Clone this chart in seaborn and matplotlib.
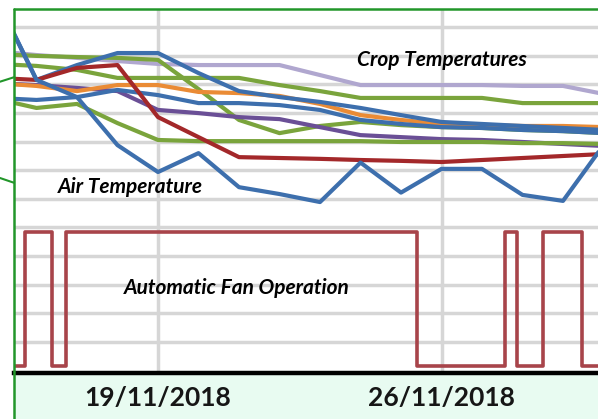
import matplotlib
matplotlib.use("Agg")
import matplotlib.pyplot as plt
from matplotlib.lines import Line2D
from matplotlib.patches import Rectangle
import seaborn as sns
import numpy as np

sns.set_theme(style="white")
plt.rcParams['font.family'] = ['Lato', 'DejaVu Sans']

# ---- data (day of November 2018, relative units) ----
days = [15, 16, 17, 18, 19, 20, 21, 22, 23, 24, 25, 26, 27, 28, 29, 30]

air_temp = [13.06, 10.16, 9.56, 7.88, 6.94, 7.60, 6.41, 6.17, 5.89, 7.27, 6.22, 7.05, 7.05, 6.14, 5.93, 7.88]
crop_blue_a = [13.06, 10.16, 10.68, 11.10, 11.10, 10.40, 9.77, 9.56, 9.39, 9.18, 8.93, 8.69, 8.62, 8.55, 8.48, 8.41]
crop_blue_b = [9.53, 9.46, 9.56, 9.81, 9.63, 9.35, 9.35, 9.28, 9.11, 8.76, 8.62, 8.51, 8.48, 8.41, 8.37, 8.30]
crop_lavender = [11.17, 11.03, 10.93, 10.82, 10.72, 10.68, 10.68, 10.68, 10.33, 9.98, 9.98, 9.98, 9.98, 9.95, 9.95, 9.67]
crop_green_a = [11.07, 11.00, 10.96, 10.93, 10.86, 9.84, 8.76, 8.30, 8.55, 8.69, 8.58, 8.51, 8.48, 8.41, 8.37, 8.30]
crop_green_b = [10.72, 10.65, 10.51, 10.23, 10.23, 10.23, 10.23, 9.98, 9.77, 9.53, 9.53, 9.53, 9.53, 9.35, 9.35, 9.35]
crop_green_c = [9.50, 9.18, 9.32, 8.65, 8.06, 8.02, 8.02, 8.02, 8.02, 8.02, 7.99, 7.99, 7.99, 7.95, 7.95, 7.92]
crop_red = [10.23, 10.16, 10.58, 10.68, 8.86, 8.16, 7.46, 7.43, 7.40, 7.36, 7.33, 7.29, 7.36, 7.43, 7.50, 7.57]
crop_orange = [10.05, 9.95, 9.77, 9.98, 9.98, 9.74, 9.70, 9.60, 9.32, 8.93, 8.76, 8.62, 8.58, 8.55, 8.55, 8.51]
crop_purple = [10.05, 9.98, 9.88, 9.77, 9.11, 9.00, 8.86, 8.79, 8.51, 8.23, 8.16, 8.09, 8.06, 7.99, 7.92, 7.85]

fan_times = [15.3, 15.716, 16.375, 16.728, 25.388, 27.568, 27.872, 28.514, 29.462, 30.2]
fan_state = [0.15, 4.85, 0.15, 4.85, 0.15, 4.85, 0.15, 4.85, 0.15, 0.15]

tick_days = [19, 26]
tick_labels = ["19/11/2018", "26/11/2018"]

# ---- figure ----
W, H = 598, 419
fig = plt.figure(figsize=(W / 100, H / 100), dpi=100)
fig.patch.set_facecolor("white")

# light green band under the axis
fig.patches.append(Rectangle((14 / W, 0), 1 - 14 / W, (H - 372.5) / H,
                             transform=fig.transFigure, facecolor="#e8fbf1",
                             edgecolor="none", zorder=-5))

ax = fig.add_axes([14 / W, (H - 372.5) / H, 1 - 14 / W, (372.5 - 9) / H])
ax.set_facecolor("white")
ax.set_zorder(2)

series = [
    (crop_lavender, "#b0a7cf"),
    (crop_green_b, "#7aa43c"),
    (crop_green_a, "#7aa43c"),
    (crop_purple, "#6a4f96"),
    (crop_orange, "#ea8b35"),
    (crop_blue_b, "#3d6fad"),
    (crop_blue_a, "#3d6fad"),
    (crop_green_c, "#7aa43c"),
    (crop_red, "#a3282a"),
    (air_temp, "#3d6fad"),
]
for vals, col in series:
    sns.lineplot(x=days, y=vals, color=col, linewidth=3.0, ax=ax,
                 solid_capstyle="butt", solid_joinstyle="round")

sns.lineplot(x=fan_times, y=fan_state, color="#a8444a", linewidth=2.6,
             drawstyle="steps-post", ax=ax, sort=False)

x0 = 19 - 144 / 40.5
x1 = 19 + 440 / 40.5
ax.set_xlim(x0, x1)
ax.set_ylim(-0.07, (370.5 - 9) / 28.6)

ax.set_yticks(np.arange(1, 13))
ax.set_yticklabels([])
ax.set_xticks(tick_days)
ax.set_xticklabels(tick_labels, fontsize=19, fontweight="bold", color="#161616")
ax.grid(True, color="#d6d6d6", linewidth=2.5)
ax.set_axisbelow(True)
ax.tick_params(axis="y", length=0)
ax.tick_params(axis="x", direction="out", length=5, width=2.5, color="black", pad=5)

for s in ["top", "left", "right"]:
    ax.spines[s].set_visible(False)
ax.spines["bottom"].set_color("black")
ax.spines["bottom"].set_linewidth(3.2)
ax.spines["bottom"].set_zorder(5)
ax.set_xlabel("")
ax.set_ylabel("")

# annotations
lab_kw = dict(xycoords="figure fraction", ha="center", va="center", fontsize=15,
              fontweight="bold", fontstyle="italic", color="black")
ax.annotate("Crop Temperatures", xy=(442 / W, 1 - 60 / H), **lab_kw)
ax.annotate("Air Temperature", xy=(130 / W, 1 - 187 / H), **lab_kw)
ax.annotate("Automatic Fan Operation", xy=(237 / W, 1 - 288 / H), **lab_kw)

# green callout frame
g = "#22962a"
fig.add_artist(Line2D([13.8 / W, 13.8 / W], [0, 1 - 9 / H], transform=fig.transFigure,
                      color=g, linewidth=1.8, zorder=10))
fig.add_artist(Line2D([13.8 / W, 1], [1 - 9 / H, 1 - 9 / H], transform=fig.transFigure,
                      color=g, linewidth=1.8, zorder=10))
fig.add_artist(Line2D([0, 13.8 / W], [1 - 81.7 / H, 1 - 77.3 / H], transform=fig.transFigure,
                      color=g, linewidth=1.5, zorder=10))
fig.add_artist(Line2D([0, 13.8 / W], [1 - 178 / H, 1 - 182.7 / H], transform=fig.transFigure,
                      color=g, linewidth=1.5, zorder=10))

fig.savefig("out.png", dpi=100, facecolor="white")
